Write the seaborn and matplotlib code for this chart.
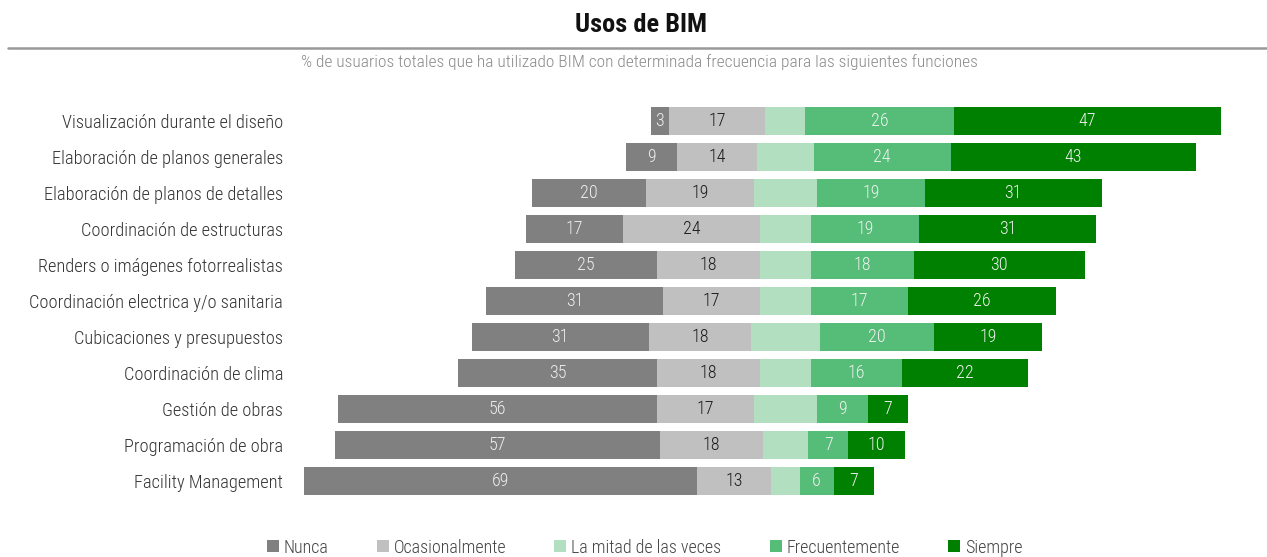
import matplotlib
matplotlib.use("Agg")
import matplotlib.pyplot as plt
from matplotlib.lines import Line2D
import seaborn as sns
import pandas as pd
import numpy as np

categories = [
    "Visualización durante el diseño",
    "Elaboración de planos generales",
    "Elaboración de planos de detalles",
    "Coordinación de estructuras",
    "Renders o imágenes fotorrealistas",
    "Coordinación electrica y/o sanitaria",
    "Cubicaciones y presupuestos",
    "Coordinación de clima",
    "Gestión de obras",
    "Programación de obra",
    "Facility Management",
]
nunca = [3, 9, 20, 17, 25, 31, 31, 35, 56, 57, 69]
ocasionalmente = [17, 14, 19, 24, 18, 17, 18, 18, 17, 18, 13]
mitad = [7, 10, 11, 9, 9, 9, 12, 9, 11, 8, 5]
frecuentemente = [26, 24, 19, 19, 18, 17, 20, 16, 9, 7, 6]
siempre = [47, 43, 31, 31, 30, 26, 19, 22, 7, 10, 7]
series_names = ["Nunca", "Ocasionalmente", "La mitad de las veces", "Frecuentemente", "Siempre"]

colors = ["#808080", "#c0c0c0", "#b2dfbf", "#55bd78", "#008000"]

sns.set_theme(style="white")
fam = ["Roboto Condensed", "DejaVu Sans"]
plt.rcParams["font.family"] = fam
plt.rcParams["font.weight"] = 300

n = np.array(nunca, float)
o = np.array(ocasionalmente, float)
m = np.array(mitad, float)
f = np.array(frecuentemente, float)
s = np.array(siempre, float)

df = pd.DataFrame({
    "cat": categories,
    "L_nunca": -(m / 2 + o + n),
    "L_ocas": -(m / 2 + o),
    "L_mitad": -(m / 2),
    "R_siempre": m / 2 + f + s,
    "R_frec": m / 2 + f,
    "R_mitad": m / 2,
})

fig = plt.figure(figsize=(12.67, 5.57), dpi=100)
ax = fig.add_axes([0.23, 0.104, 0.76, 0.711])

layers = [
    ("L_nunca", colors[0]), ("L_ocas", colors[1]), ("L_mitad", colors[2]),
    ("R_siempre", colors[4]), ("R_frec", colors[3]), ("R_mitad", colors[2]),
]
for col, c in layers:
    sns.barplot(data=df, x=col, y="cat", color=c, saturation=1, width=0.8,
                linewidth=0, orient="h", ax=ax)

# value labels
for i in range(len(categories)):
    segs = [
        (-(m[i] / 2 + o[i] + n[i]), n[i], "#eeeeee"),
        (-(m[i] / 2 + o[i]), o[i], "#1a1a1a"),
        (m[i] / 2, f[i], "#f0f0f0"),
        (m[i] / 2 + f[i], s[i], "#f0f0f0"),
    ]
    for start, w, tc in segs:
        ax.text(start + w / 2, i, f"{int(w)}", ha="center", va="center",
                fontsize=13, color=tc, family=fam, fontweight=300)

ax.set_xlim((291 - 785) / 5.7, (1254 - 785) / 5.7)
ax.set_ylim(10.5, -0.5)
ax.set_xlabel("")
ax.set_ylabel("")
ax.set_xticks([])
ax.tick_params(axis="y", length=0, pad=6, labelsize=13.2, labelcolor="#333333")
for lbl in ax.get_yticklabels():
    lbl.set_fontweight(300)
for sp in ax.spines.values():
    sp.set_visible(False)

fig.text(0.506, 0.955, "Usos de BIM", ha="center", va="center", fontsize=19,
         fontweight="bold", color="#111111", family=fam)
fig.add_artist(Line2D([0.006, 1.0], [0.914, 0.914], transform=fig.transFigure,
                      color="#999999", linewidth=1.8))
fig.text(0.505, 0.889, "% de usuarios totales que ha utilizado BIM con determinada frecuencia para las siguientes funciones",
         ha="center", va="center", fontsize=12.5, color="#8a8a8a", family=fam,
         fontweight=300)

handles = [Line2D([0], [0], marker="s", linestyle="", markersize=8.5,
                  markerfacecolor=c, markeredgewidth=0) for c in colors]
leg = fig.legend(handles, series_names, loc="center", bbox_to_anchor=(0.509, 0.017),
                 ncol=5, frameon=False, fontsize=13, handlelength=0.6,
                 handletextpad=0.3, columnspacing=2.7, labelcolor="#444444")
for t in leg.get_texts():
    t.set_fontweight(300)

fig.savefig("out.png", dpi=100)
